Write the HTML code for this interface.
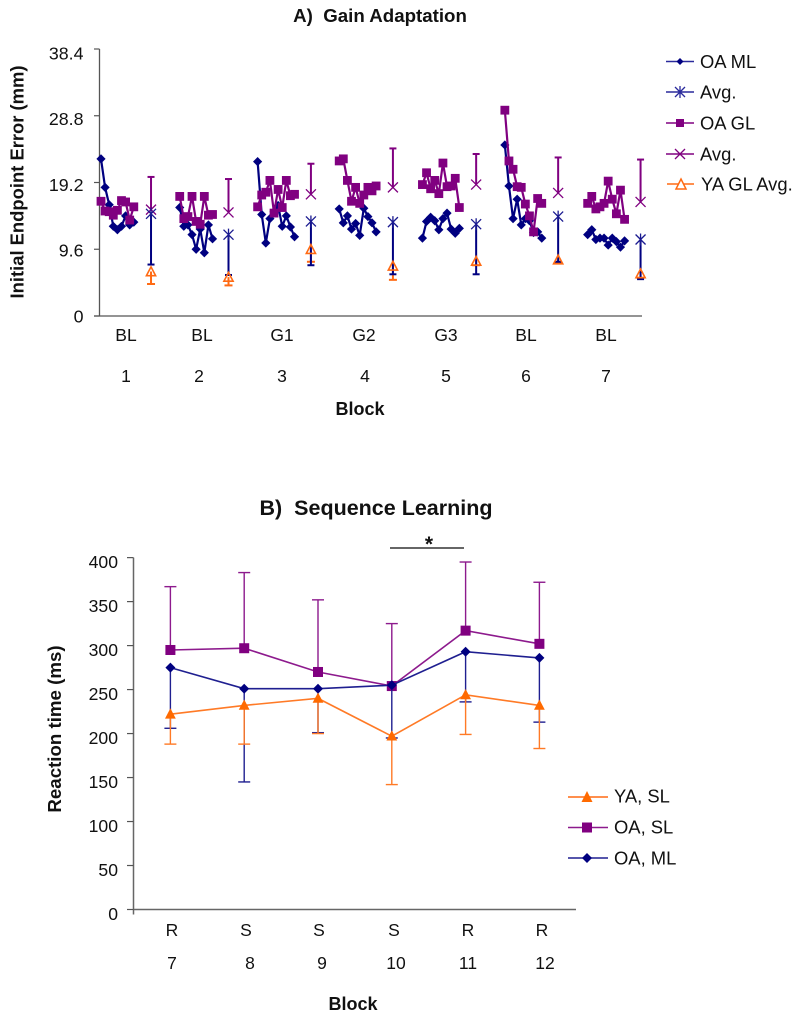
<!DOCTYPE html>
<html lang="en">
<head>
<meta charset="utf-8">
<title>Gain Adaptation and Sequence Learning</title>
<style>
html,body{margin:0;padding:0;background:#fff;}
svg{display:block;filter:blur(0.35px);}
text{font-family:"Liberation Sans",Arial,sans-serif;fill:#111;}
.b{font-weight:bold;}
.t{font-size:17.5px;}
.l{font-size:18.4px;}
</style>
</head>
<body>
<svg id="fig" width="800" height="1017" viewBox="0 0 800 1017" xmlns="http://www.w3.org/2000/svg">
  <g id="chartA">
    <text class="b" x="380" y="22" font-size="18.7" text-anchor="middle" xml:space="preserve">A)  Gain Adaptation</text>
    <text class="b" font-size="18.4" text-anchor="middle" transform="translate(23.500,182) rotate(-90)">Initial Endpoint Error (mm)</text>
    <text class="b" x="360" y="415" font-size="18" text-anchor="middle">Block</text>
    <g class="t" text-anchor="middle">
      <text x="126" y="341">BL</text>
      <text x="202" y="341">BL</text>
      <text x="282" y="341">G1</text>
      <text x="364" y="341">G2</text>
      <text x="446" y="341">G3</text>
      <text x="526" y="341">BL</text>
      <text x="606" y="341">BL</text>
    </g>
    <g class="t" text-anchor="middle">
      <text x="126" y="382">1</text>
      <text x="199" y="382">2</text>
      <text x="282" y="382">3</text>
      <text x="365" y="382">4</text>
      <text x="446" y="382">5</text>
      <text x="526" y="382">6</text>
      <text x="606" y="382">7</text>
    </g>
    <g>
      <g>
        <line x1="666" x2="694" y1="61.5" y2="61.5" stroke="#2a2a9c" stroke-width="1.5"/>
        <path d="M680 58 L683.500 61.500 L680 65 L676.500 61.500Z" fill="#000080"/>
        <text x="700" y="68" class="l">OA ML</text>
      </g>
      <g>
        <line x1="666" x2="694" y1="92" y2="92" stroke="#2a2a9c" stroke-width="1.5"/>
        <path d="M675 87 L685 97 M685 87 L675 97 M680 86 V98" stroke="#2a2a9c" stroke-width="1.300" fill="none"/>
        <text x="700" y="98.500" class="l">Avg.</text>
      </g>
      <g>
        <line x1="666" x2="694" y1="123" y2="123" stroke="#800080" stroke-width="1.5"/>
        <rect x="676" y="119" width="8" height="8" fill="#800080"/>
        <text x="700" y="129.500" class="l">OA GL</text>
      </g>
      <g>
        <line x1="666" x2="694" y1="154" y2="154" stroke="#800080" stroke-width="1.5"/>
        <path d="M675 149 L685 159 M685 149 L675 159" stroke="#800080" stroke-width="1.300" fill="none"/>
        <text x="700" y="160.500" class="l">Avg.</text>
      </g>
      <g>
        <line x1="667" x2="694" y1="184" y2="184" stroke="#ff6a13" stroke-width="1.5"/>
        <path d="M681 179 L686 189 L676 189Z" fill="#fff" stroke="#ff6a13" stroke-width="1.500"/>
        <text x="701" y="190.500" class="l">YA GL Avg.</text>
      </g>
    </g>
  </g>
  <g id="chartB">
    <text class="b" x="376" y="515" font-size="21.5" text-anchor="middle" xml:space="preserve">B)  Sequence Learning</text>
    <text class="b" font-size="18.7" text-anchor="middle" transform="translate(61,729) rotate(-90)">Reaction time (ms)</text>
    <text class="b" x="353" y="1010" font-size="18" text-anchor="middle">Block</text>
    <line x1="390" x2="464" y1="548" y2="548" stroke="#333" stroke-width="1.500"/>
    <text class="b" x="429" y="551" font-size="21" text-anchor="middle">*</text>
    <g class="t" text-anchor="middle">
      <text x="172" y="936">R</text>
      <text x="246" y="936">S</text>
      <text x="319" y="936">S</text>
      <text x="394" y="936">S</text>
      <text x="468" y="936">R</text>
      <text x="542" y="936">R</text>
    </g>
    <g class="t" text-anchor="middle">
      <text x="172" y="969">7</text>
      <text x="250" y="969">8</text>
      <text x="322" y="969">9</text>
      <text x="396" y="969">10</text>
      <text x="468" y="969">11</text>
      <text x="545" y="969">12</text>
    </g>
    <g>
      <g>
        <line x1="568" x2="608" y1="797" y2="797" stroke="#ff6a13" stroke-width="1.500"/>
        <path d="M587 791 L592.500 802 L581.500 802Z" fill="#ff6a00"/>
        <text x="614" y="802.500" class="l">YA, SL</text>
      </g>
      <g>
        <line x1="568" x2="608" y1="827.500" y2="827.500" stroke="#8d1a8d" stroke-width="1.500"/>
        <rect x="582" y="822.500" width="10" height="10" fill="#800080"/>
        <text x="614" y="833.500" class="l">OA, SL</text>
      </g>
      <g>
        <line x1="568" x2="608" y1="858" y2="858" stroke="#1f1f90" stroke-width="1.500"/>
        <path d="M587 853 L592 858 L587 863 L582 858Z" fill="#000080"/>
        <text x="614" y="864.500" class="l">OA, ML</text>
      </g>
    </g>
  </g>
</svg>
<script>
// ---------- Chart A data (endpoint error, mm) ----------
const errTicks = [0, 9.6, 19.2, 28.8, 38.4];
const blockStartTrial = [0, 19.2, 38.2, 58.1, 78.4, 98.5, 118.7];
const blockAvgTrial = [12.2, 31.1, 51.2, 71.2, 91.5, 111.5, 131.6];
const oaMl = [
  [22.6, 18.5, 16.0, 12.9, 12.4, 12.9, 14.4, 13.1, 13.5],
  [15.6, 12.9, 13.1, 11.7, 9.6, 12.5, 9.1, 13.1, 11.1],
  [22.2, 14.6, 10.5, 14.0, 15.0, 15.9, 12.9, 14.4, 12.8, 11.4],
  [15.4, 13.4, 14.4, 12.5, 13.3, 11.6, 15.5, 14.3, 13.4, 12.1],
  [11.2, 13.6, 14.2, 13.7, 12.4, 14.0, 14.8, 12.5, 11.9, 12.6],
  [24.6, 18.7, 14.0, 16.8, 13.1, 14.0, 13.7, 12.0, 12.1, 11.2],
  [11.7, 12.4, 11.0, 11.2, 11.2, 10.2, 11.2, 10.7, 9.9, 10.8]
];
const oaGl = [
  [16.5, 15.1, 15.0, 14.5, 15.2, 16.6, 16.4, 13.8, 15.7],
  [17.2, 14.0, 14.3, 17.2, 13.6, 13.2, 17.2, 14.5, 14.6],
  [15.7, 17.4, 17.8, 19.5, 14.8, 18.2, 15.6, 19.5, 17.3, 17.5],
  [22.3, 22.6, 19.5, 16.5, 18.5, 16.2, 17.4, 18.5, 18.0, 18.7],
  [18.9, 20.6, 18.3, 19.5, 17.6, 22.0, 18.6, 18.7, 19.8, 15.6],
  [29.6, 22.3, 21.1, 18.6, 18.5, 16.1, 14.4, 12.1, 16.9, 16.2],
  [16.2, 17.2, 15.4, 15.7, 16.2, 19.4, 16.8, 14.7, 18.1, 13.9]
];
const mlAvg = [14.7, 11.7, 13.6, 13.5, 13.2, 14.3, 11.0];
const mlAvgLow = [7.4, 5.9, 7.3, 6.0, 6.0, 7.8, 5.3];
const glAvg = [15.3, 14.9, 17.5, 18.5, 18.9, 17.7, 16.4];
const glAvgHigh = [20.0, 19.7, 21.9, 24.1, 23.3, 22.8, 22.5];
const yaAvg = [6.4, 5.6, 9.6, 7.2, 7.9, 8.1, 6.1];
const yaAvgLow = [4.6, 4.4, 7.8, 5.2, 7.3, 7.6, 5.5];

// ---------- Chart B data (reaction time, ms) ----------
const rtTicks = [0, 50, 100, 150, 200, 250, 300, 350, 400];
const rtBlocks = [7, 8, 9, 10, 11, 12];
const oaSl = [295, 297, 270, 254, 317, 302];
const oaSlHigh = [367, 383, 352, 325, 395, 372];
const oaMlRt = [275, 251, 251, 255, 293, 286];
const oaMlLow = [206, 145, 201, 195, 236, 213];
const yaSl = [222, 232, 240, 197, 244, 232];
const yaSlLow = [188, 188, 200, 142, 199, 183];

// ---------- Axis functions ----------
const yA = v => 316 - v * (267 / 38.4);
const xA = t => 101 + t * 4.1;
const yB = v => 909.5 - v * 0.8797;
const xB = i => 133.5 + 73.8 * (i + 0.5);

const NS = 'http://www.w3.org/2000/svg';
const chartA = document.getElementById('chartA');
const chartB = document.getElementById('chartB');

function shape(parent, tag, props) {
  const el = document.createElementNS(NS, tag);
  for (const k in props) el.setAttribute(k, props[k]);
  parent.appendChild(el);
  return el;
}
function diamondPath(x, y, r) {
  return 'M' + x + ' ' + (y - r) + 'L' + (x + r) + ' ' + y + 'L' + x + ' ' + (y + r) + 'L' + (x - r) + ' ' + y + 'Z';
}
function trianglePath(x, y, r) {
  return 'M' + x + ' ' + (y - r) + 'L' + (x + r) + ' ' + (y + r * 0.9) + 'L' + (x - r) + ' ' + (y + r * 0.9) + 'Z';
}
function errorBar(parent, x, y1, y2, color, width, cap) {
  const g = shape(parent, 'g', {});
  
  
  shape(g, 'line', {x1: x, x2: x, y1: y1, y2: y2, stroke: color, 'stroke-width': width});
  shape(g, 'line', {x1: x - cap, x2: x + cap, y1: y2, y2: y2, stroke: color, 'stroke-width': width});
}

// ---------- Chart A axes ----------
const axisA = shape(chartA, 'g', {});


shape(axisA, 'line', {x1: 99.5, x2: 99.5, y1: yA(38.4), y2: yA(0), stroke: '#555', 'stroke-width': 1.3});
shape(axisA, 'line', {x1: 94, x2: 642, y1: yA(0), y2: yA(0), stroke: '#555', 'stroke-width': 1.3});
errTicks.forEach(v => {
  const tick = shape(axisA, 'line', {x1: 94, x2: 99.5, y1: yA(v), y2: yA(v), stroke: '#555', 'stroke-width': 1.2});
  
  
  const label = shape(axisA, 'text', {x: 83.5, y: yA(v) + 6.3 + v / 38.4 * 4, 'text-anchor': 'end', 'font-size': 17.8});
  label.textContent = String(v);
  
  
});

// ---------- Chart A series ----------
function drawTrials(values, color, kind) {
  values.forEach((series, b) => {
    const g = shape(chartA, 'g', {});
    
    
    const pts = series.map((v, k) => [xA(blockStartTrial[b] + k), yA(v)]);
    shape(g, 'polyline', {points: pts.map(p => p.join(',')).join(' '), fill: 'none', stroke: color, 'stroke-width': 2.2});
    pts.forEach(p => {
      if (kind === 'diamond') {
        shape(g, 'path', {d: diamondPath(p[0], p[1], 4.6), fill: color});
      } else {
        shape(g, 'rect', {x: p[0] - 4.4, y: p[1] - 4.4, width: 8.8, height: 8.8, fill: color});
      }
    });
  });
}
drawTrials(oaMl, '#000080', 'diamond');
drawTrials(oaGl, '#800080', 'square');

blockAvgTrial.forEach((t, b) => {
  const x = xA(t);
  const g = shape(chartA, 'g', {});
  
  
  errorBar(g, x, yA(yaAvg[b]), yA(yaAvgLow[b]), '#ff6a13', 2, 4);
  errorBar(g, x, yA(glAvg[b]), yA(glAvgHigh[b]), '#800080', 2, 3.5);
  errorBar(g, x, yA(mlAvg[b]), yA(mlAvgLow[b]), '#000080', 2, 3.5);
  shape(g, 'path', {d: trianglePath(x, yA(yaAvg[b]), 4.6), fill: 'none', stroke: '#ff6a13', 'stroke-width': 1.6});
  const px = yA(glAvg[b]);
  shape(g, 'path', {d: 'M' + (x - 5) + ' ' + (px - 5) + 'L' + (x + 5) + ' ' + (px + 5) + 'M' + (x + 5) + ' ' + (px - 5) + 'L' + (x - 5) + ' ' + (px + 5), stroke: '#800080', 'stroke-width': 1.3, fill: 'none'});
  const my = yA(mlAvg[b]);
  shape(g, 'path', {d: 'M' + (x - 5) + ' ' + (my - 5) + 'L' + (x + 5) + ' ' + (my + 5) + 'M' + (x + 5) + ' ' + (my - 5) + 'L' + (x - 5) + ' ' + (my + 5) + 'M' + x + ' ' + (my - 6) + 'V' + (my + 6), stroke: '#1a1a90', 'stroke-width': 1.3, fill: 'none'});
});

// ---------- Chart B axes ----------
const axisB = shape(chartB, 'g', {});


shape(axisB, 'line', {x1: 133.5, x2: 133.5, y1: yB(400), y2: yB(0) + 5, stroke: '#666', 'stroke-width': 1.5});
shape(axisB, 'line', {x1: 133.5, x2: 576, y1: yB(0), y2: yB(0), stroke: '#666', 'stroke-width': 1.5});
rtTicks.forEach(v => {
  const tick = shape(axisB, 'line', {x1: 127, x2: 133.5, y1: yB(v), y2: yB(v), stroke: '#555', 'stroke-width': 1.2});
  
  
  const label = shape(axisB, 'text', {x: 118, y: yB(v) + 10.5, 'text-anchor': 'end', 'font-size': 17.6});
  label.textContent = String(v);
  
  
});

// ---------- Chart B series ----------
function drawRt(values, limits, color, markerColor, kind) {
  const g = shape(chartB, 'g', {});
  
  
  rtBlocks.forEach((b, i) => errorBar(g, xB(i), yB(values[i]), yB(limits[i]), color, 1.4, 6));
  const pts = values.map((v, i) => [xB(i), yB(v)]);
  shape(g, 'polyline', {points: pts.map(p => p.join(',')).join(' '), fill: 'none', stroke: color, 'stroke-width': 1.6});
  return {g, pts, markerColor, kind};
}
const layers = [
  drawRt(oaSl, oaSlHigh, '#8d1a8d', '#800080', 'square'),
  drawRt(oaMlRt, oaMlLow, '#1f1f90', '#000080', 'diamond'),
  drawRt(yaSl, yaSlLow, '#ff7a26', '#ff6a00', 'triangle')
];
layers.forEach(l => {
  l.pts.forEach(p => {
    if (l.kind === 'square') {
      shape(l.g, 'rect', {x: p[0] - 5, y: p[1] - 5, width: 10, height: 10, fill: l.markerColor});
    } else if (l.kind === 'diamond') {
      shape(l.g, 'path', {d: diamondPath(p[0], p[1], 5), fill: l.markerColor});
    } else {
      shape(l.g, 'path', {d: trianglePath(p[0], p[1] - 0.5, 5.4), fill: l.markerColor});
    }
  });
});
</script>
</body>
</html>
